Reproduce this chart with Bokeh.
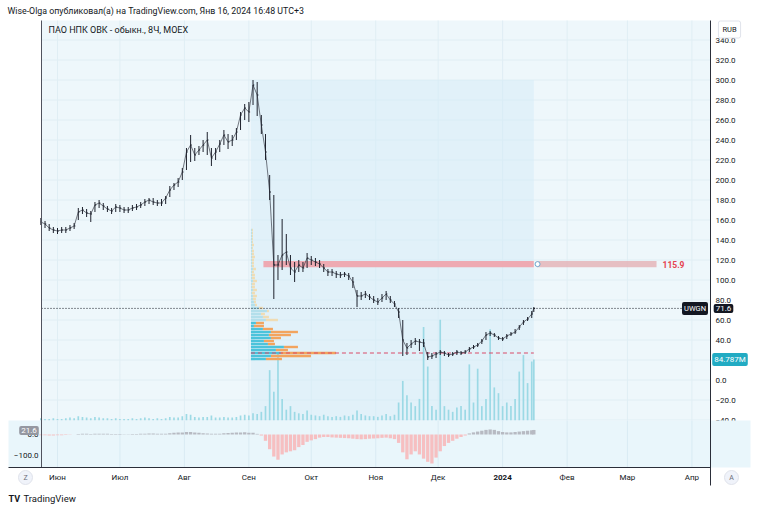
from bokeh.plotting import figure
from bokeh.models import Range1d, Label
from bokeh.core.properties import value
from bokeh.embed import file_html
from bokeh.resources import INLINE

FONT = "Roboto"

# ---------------- data ----------------
# day offsets from 2023-06-01 (two-day steps, last bar = 2024-01-16)
day = list(range(-8, 229, 2)) + [229]

close = [158, 156, 152, 150, 149, 150, 150, 152, 154, 168,
         170, 167, 166, 175, 177, 174, 171, 169, 173, 172,
         170, 170, 172, 173, 175, 178, 180, 178, 177, 177,
         182, 190, 195, 198, 208, 228, 235, 225, 230, 235,
         240, 222, 228, 236, 245, 238, 240, 248, 265, 272,
         268, 295, 285, 255, 228, 188, 115, 115, 125, 128,
         112, 108, 115, 112, 122, 120, 118, 116, 112, 108,
         108, 106, 105, 106, 104, 98, 84, 84, 86, 83,
         80, 78, 82, 86, 80, 76, 68, 40, 32, 36,
         39, 38, 37, 23, 24, 26, 28, 27, 25, 26,
         28, 27, 28, 31, 33, 35, 39, 45, 47, 45,
         42, 41, 44, 46, 48, 53, 58, 61, 66, 71.6]

low = [155, 152, 149, 147, 146, 147, 147, 149, 151, 160,
       166, 163, 158, 168, 172, 170, 168, 166, 168, 168,
       167, 167, 169, 170, 172, 174, 176, 175, 174, 174,
       176, 183, 190, 193, 200, 210, 218, 219, 225, 228,
       225, 214, 220, 228, 235, 231, 234, 240, 250, 260,
       258, 275, 264, 246, 220, 180, 81, 100, 110, 115,
       105, 98, 108, 108, 112, 115, 114, 112, 108, 104,
       104, 102, 102, 103, 100, 92, 73, 80, 82, 80,
       77, 75, 78, 80, 77, 73, 62, 24, 25, 32,
       35, 29, 33, 20, 21, 22, 25, 24, 23, 24,
       25, 25, 26, 28, 31, 33, 36, 40, 44, 43,
       40, 39, 41, 44, 46, 50, 55, 59, 62, 68]

high = [162, 159, 156, 153, 152, 153, 153, 155, 157, 172,
        173, 171, 169, 178, 180, 177, 174, 172, 176, 175,
        173, 173, 175, 176, 178, 181, 182, 182, 180, 181,
        184, 194, 197, 202, 212, 232, 245, 232, 234, 240,
        248, 232, 232, 240, 250, 246, 245, 252, 268, 276,
        278, 300, 298, 265, 246, 205, 185, 125, 161, 146,
        125, 118, 120, 118, 127, 124, 122, 120, 116, 111,
        111, 109, 108, 108, 107, 103, 90, 88, 89, 86,
        84, 82, 86, 89, 84, 79, 72, 60, 37, 40,
        42, 41, 41, 28, 27, 28, 30, 29, 27, 28,
        30, 29, 30, 33, 35, 37, 41, 48, 49, 47,
        44, 43, 46, 48, 51, 55, 60, 63, 69, 73]

volume_m = [3, 2, 2, 3, 2, 2, 3, 4, 3, 6,
            5, 4, 3, 5, 4, 3, 3, 2, 3, 2,
            2, 2, 3, 2, 3, 4, 3, 2, 3, 2,
            3, 5, 4, 4, 6, 9, 8, 5, 4, 5,
            5, 7, 4, 4, 5, 4, 4, 5, 7, 8,
            7, 10, 9, 12, 20, 70, 40, 95, 30, 15,
            20, 12, 10, 9, 14, 8, 7, 6, 8, 6,
            5, 6, 5, 7, 6, 8, 14, 9, 7, 6,
            6, 5, 7, 9, 6, 8, 25, 55, 35, 25,
            20, 30, 130, 75, 20, 15, 140, 20, 15, 12,
            18, 20, 15, 78, 25, 72, 20, 30, 127, 46,
            38, 20, 25, 20, 30, 68, 91, 52, 82, 84.787]

osc = [-3, -4, -5, -5, -4, -3, -2, -1, 0, 2,
       3, 3, 2, 3, 4, 4, 3, 2, 2, 2,
       1, 1, 2, 2, 3, 4, 5, 5, 4, 3,
       4, 6, 8, 9, 10, 12, 12, 10, 8, 6,
       5, 3, 3, 4, 6, 7, 8, 9, 10, 11,
       8, 8, 3, -5, -30, -70, -105, -120, -95, -85,
       -80, -75, -60, -50, -35, -28, -22, -15, -12, -12,
       -14, -15, -16, -17, -18, -20, -22, -23, -22, -20,
       -19, -18, -16, -15, -18, -22, -40, -85, -118, -95,
       -80, -95, -115, -130, -138, -110, -80, -55, -40, -30,
       -20, -12, -5, 5, 10, 14, 18, 22, 24, 22,
       16, 12, 10, 10, 12, 14, 16, 18, 20, 21.6]

month_day = [0, 30, 61, 92, 122, 153, 183, 214, 245, 274, 305]
month_lbl = ["Июн", "Июл", "Авг", "Сен", "Окт", "Ноя", "Дек", "2024", "Фев", "Мар", "Апр"]
price_ticks = list(range(-40, 341, 20))
price_lbl = [f"{t:.1f}".replace("-", "\u2212") for t in price_ticks]
osc_ticks = [0, -100]
osc_lbl = ["0.0", "\u2212100.0"]

# fixed-range volume profile (price bins of 3 RUB)
profile_price = list(range(21, 151, 3))
profile_up = [15, 20, 30, 25, 33, 17, 13, 20, 18, 20, 12, 3, 5, 15, 12, 10, 16, 8, 4, 3,
              2, 2, 1, 2, 1, 1, 2, 1, 1, 1, 2, 1, 1, 1, 1, 1, 1, 1, 1, 1, 1, 1, 1, 1]
profile_down = [16, 40, 55, 12, 14, 7, 10, 10, 22, 27, 10, 10, 8, 12, 6, 4, 2, 4, 2, 2,
                3, 4, 3, 4, 3, 3, 4, 3, 3, 2, 3, 2, 2, 2, 3, 2, 2, 1, 2, 1, 1, 1, 1, 1]
value_area_high = 58
poc_price = 27

last_price = 71.6
last_volume = 84.787
last_osc = 21.6
level_price = 115.9
range_start = 93       # day offset where the range drawing / profile starts
range_top = 300
level_start, level_end = 99, 288

# ---------------- geometry (page pixels -> data) ----------------
W, H = 752, 506
X_DAY0, X_PER_DAY = 57.0, 2.08      # page x of day 0, pixels per day


def dx(px):           # day coordinate at page x
    return (px - X_DAY0) / X_PER_DAY


def py(yp):           # price coordinate at page y (1 px per RUB)
    return 379.5 - yp


VOL_PX = 61.0 / last_volume          # pixels per million (volume pane)
OSC_PX = 0.21                        # pixels per oscillator unit
PANE_L, PANE_R = dx(41), dx(710)
PANE_TOP, PANE_BOT, OSC_BOT, AX_BOT = py(20), py(420), py(467), py(485)

p = figure(width=W, height=H, x_range=Range1d(dx(0), dx(W)), y_range=Range1d(py(H), py(0)),
           toolbar_location=None, output_backend="svg", x_axis_location=None, y_axis_location=None,
           min_border=0, min_border_left=0, min_border_right=0, min_border_top=0, min_border_bottom=0,
           background_fill_color="#ffffff", border_fill_color="#ffffff", outline_line_color=None)
p.grid.visible = False
p.extra_y_ranges = {
    "vol": Range1d(-(H - 420) / VOL_PX, 420 / VOL_PX),
    "osc": Range1d(-(H - 434) / OSC_PX, 434 / OSC_PX),
}

# main pane background + grid
p.quad(left=PANE_L, right=PANE_R, bottom=PANE_BOT, top=PANE_TOP, fill_color="#eef7fb", line_color=None)
p.segment(x0=[PANE_L] * len(price_ticks), y0=price_ticks, x1=[PANE_R] * len(price_ticks), y1=price_ticks,
          line_color="#e0eef4", line_width=1)
p.segment(x0=month_day, y0=[PANE_BOT] * len(month_day), x1=month_day, y1=[PANE_TOP] * len(month_day),
          line_color="#e0eef4", line_width=1)

# range tool zone
p.quad(left=range_start, right=day[-1], bottom=PANE_BOT, top=range_top,
       fill_color="#d3ecf7", fill_alpha=0.5, line_color=None)

# volume
p.vbar(x=day, top=volume_m, bottom=0, width=0.8, y_range_name="vol",
       fill_color="#94d6e2", line_color=None, fill_alpha=0.9)

# volume profile
S = 1 / X_PER_DAY
up_r = [range_start + u * S for u in profile_up]
dn_r = [r + d * S for r, d in zip(up_r, profile_down)]
in_va = [pr <= value_area_high for pr in profile_price]
p.hbar(y=profile_price, left=range_start, right=up_r, height=2.4, line_color=None,
       fill_color=["#4cc3db" if v else "#b3dfeb" for v in in_va])
p.hbar(y=profile_price, left=up_r, right=dn_r, height=2.4, line_color=None,
       fill_color=["#f2a45e" if v else "#efdcb4" for v in in_va])
p.segment(x0=[range_start], y0=[poc_price], x1=[day[-1]], y1=[poc_price],
          line_color="#d94a68", line_dash="4 3", line_width=1)

# horizontal level band
p.quad(left=level_start, right=day[-1], bottom=level_price - 3.1, top=level_price + 3.1,
       fill_color="#f0a2aa", fill_alpha=0.9, line_color=None)
p.quad(left=day[-1] + 1.5, right=level_end, bottom=level_price - 3.1, top=level_price + 3.1,
       fill_color="#e4b8bc", fill_alpha=0.9, line_color=None)
p.scatter(x=[day[-1] + 1.8], y=[level_price], size=5, fill_color="white", line_color="#6fa8cf")

# price bars
p.line(day, close, line_color="#1e222d", line_width=0.6)
p.segment(x0=day, y0=low, x1=day, y1=high, line_color="#1e222d", line_width=1)
p.segment(x0=day, y0=close, x1=[d + 0.6 for d in day], y1=close, line_color="#1e222d", line_width=1)

# last price dotted line
p.segment(x0=[PANE_L], y0=[last_price], x1=[dx(681)], y1=[last_price],
          line_color="#131722", line_dash="1 2", line_width=1)

# right price scale labels
p.text(x=[dx(715)] * len(price_ticks), y=price_ticks, text=price_lbl, text_font=value(FONT),
       text_font_size="8px", text_color="#131722", text_align="left", text_baseline="middle")

# oscillator pane
p.quad(left=dx(8), right=dx(750), bottom=OSC_BOT, top=PANE_BOT, fill_color="#e9f6fb", line_color=None)
p.segment(x0=month_day, y0=[OSC_BOT] * len(month_day), x1=month_day, y1=[PANE_BOT] * len(month_day),
          line_color="#d9ebf3", line_width=1)
p.vbar(x=day, top=osc, bottom=0, width=1.6, line_color=None, y_range_name="osc",
       fill_color=["#b7bac2" if v >= 0 else "#f6bfc1" for v in osc])
p.text(x=[dx(38)] * len(osc_ticks), y=osc_ticks, text=osc_lbl, y_range_name="osc",
       text_font=value(FONT), text_font_size="8px", text_color="#131722",
       text_align="right", text_baseline="middle")

# scale borders
p.segment(x0=[PANE_L, PANE_R, dx(8)], y0=[PANE_TOP, PANE_TOP, OSC_BOT],
          x1=[PANE_L, PANE_R, PANE_R], y1=[OSC_BOT, AX_BOT, OSC_BOT],
          line_color=["#50535e", "#2a2e39", "#2a2e39"], line_width=1)

# time scale
md = [d for d, l in zip(month_day, month_lbl) if l != "2024"]
ml = [l for l in month_lbl if l != "2024"]
p.text(x=md, y=[py(477)] * len(md), text=ml, text_font=value(FONT), text_font_size="8px",
       text_color="#131722", text_align="center", text_baseline="middle")
yd = [d for d, l in zip(month_day, month_lbl) if l == "2024"]
p.text(x=yd, y=[py(477)], text=["2024"], text_font=value(FONT), text_font_size="8px",
       text_font_style="bold", text_color="#131722", text_align="center", text_baseline="middle")

p.scatter(x=[dx(25), dx(731)], y=[py(477)] * 2, size=14, fill_color="#f0f3fa", line_color="#e0e3eb")
p.text(x=[dx(25), dx(731)], y=[py(477)] * 2, text=["Z", "A"], text_font=value(FONT),
       text_font_size="7px", text_color="#6a6d78", text_align="center", text_baseline="middle")


def lab(x, y, text, size="8px", color="#131722", bg=None, align="center",
        style="normal", border=None, radius=2, pad=2):
    p.add_layout(Label(x=x, y=y, text=text, text_font=FONT, text_font_size=size,
                       text_color=color, text_align=align, text_baseline="middle",
                       text_font_style=style, background_fill_color=bg,
                       border_line_color=border, border_radius=radius, padding=pad))


lab(dx(7), py(10), "Wise-Olga опубликовал(а) на TradingView.com, Янв 16, 2024 16:48 UTC+3",
    size="8.8px", align="left", pad=0)
lab(dx(48), py(29), "ПАО НПК ОВК - обыкн., 8Ч, MOEX", size="9px", align="left", pad=0)
lab(dx(673), level_price, f"{level_price}", size="8.5px", color="#e5414f", style="bold", pad=0)
lab(dx(694.5), last_price, "UWGN", size="7.5px", color="white", bg="#131722")
lab(dx(723), last_price, f"{last_price}", size="8px", color="white", bg="#131722")
lab(dx(729.5), py(359), f"{last_volume}M", size="8px", color="white", bg="#22abc3")
lab(dx(729), py(29), "RUB", size="7.5px", color="#131722", bg="white", border="#e0e3eb", pad=4)
lab(dx(28.5), py(430), f"{last_osc}", size="8px", color="white", bg="#9598a1")
lab(dx(8), py(498), "TV", size="9px", style="bold", align="left", pad=0)
lab(dx(23), py(498), "TradingView", size="9.5px", align="left", pad=0)

open("out.html", "w").write(file_html(p, INLINE))
